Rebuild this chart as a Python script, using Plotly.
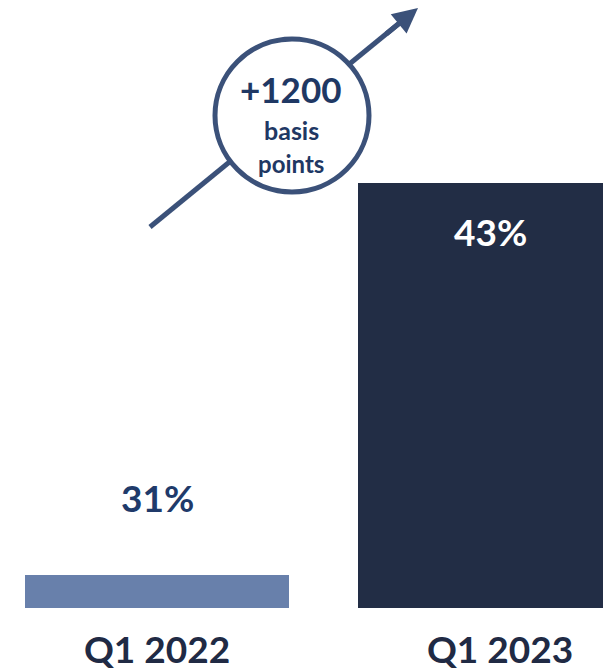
import plotly.graph_objects as go

# ---- data ----
categories = ["Q1 2022", "Q1 2023"]
values = [31, 43]
value_labels = ["31%", "43%"]
bar_colors = ["#6880AB", "#222D45"]
change_label = ["+1200", "basis", "points"]

# ---- layout geometry ----
W, H = 603, 670
PLOT_BOTTOM = 608
MB = H - PLOT_BOTTOM
PLOT_H = PLOT_BOTTOM
Y_MIN = 30
PX_PER_UNIT = 32.69
Y_MAX = Y_MIN + PLOT_H / PX_PER_UNIT
CAT_PX = 333
CAT0_PX = 157
X_RANGE = [-CAT0_PX / CAT_PX, (W - CAT0_PX) / CAT_PX]
TICK_OFFSET_PX = [0, 10]


def dx(px):
    return (px - CAT0_PX) / CAT_PX


def dy(py):
    return Y_MIN + (PLOT_H - py) / PX_PER_UNIT


FONT = "Lato"
NAVY_TEXT = "#1F3864"
LINE_COL = "#3B5179"

fig = go.Figure()
fig.add_trace(go.Bar(
    x=list(range(len(categories))), y=values,
    marker=dict(color=bar_colors, line=dict(width=0)),
    width=0.793, hoverinfo="skip",
))

# value labels
label_shift = [78, -48]
label_color = ["#203A6A", "#FFFFFF"]
for i, (v, t) in enumerate(zip(values, value_labels)):
    fig.add_annotation(x=i, y=v, text=t, showarrow=False, yshift=label_shift[i],
                       xanchor="center", yanchor="middle",
                       font=dict(family=FONT, size=37, color=label_color[i], weight="bold"))

# arrow line (behind circle)
fig.add_shape(type="line", x0=dx(150), y0=dy(227), x1=dx(402), y1=dy(21),
              line=dict(color=LINE_COL, width=5), layer="above")
# circle
fig.add_shape(type="circle", x0=dx(215), x1=dx(369), y0=dy(39), y1=dy(192),
              line=dict(color=LINE_COL, width=5), fillcolor="white", layer="above")
# arrowhead
fig.add_annotation(x=dx(418), y=dy(8), ax=dx(385), ay=dy(35), axref="x", ayref="y",
                   xref="x", yref="y", text="", showarrow=True, arrowhead=2,
                   arrowsize=1.0, arrowwidth=5, arrowcolor=LINE_COL)

# circle text
fig.add_annotation(x=dx(291), y=dy(89), text=change_label[0], showarrow=False,
                   font=dict(family=FONT, size=35, color=NAVY_TEXT, weight="bold"))
fig.add_annotation(x=dx(291), y=dy(130), text=change_label[1], showarrow=False,
                   font=dict(family=FONT, size=25, color=NAVY_TEXT, weight="bold"))
fig.add_annotation(x=dx(291), y=dy(163), text=change_label[2], showarrow=False,
                   font=dict(family=FONT, size=24, color=NAVY_TEXT, weight="bold"))

fig.update_layout(
    width=W, height=H, autosize=False,
    margin=dict(l=0, r=0, t=0, b=MB, pad=0),
    paper_bgcolor="white", plot_bgcolor="white",
    showlegend=False, bargap=0,
    xaxis=dict(range=X_RANGE,
               tickvals=[i + o / CAT_PX for i, o in enumerate(TICK_OFFSET_PX)],
               ticktext=categories,
               showgrid=False, zeroline=False, showline=False, ticks="",
               ticklabelstandoff=17,
               tickfont=dict(family=FONT, size=37, color="#202A44", weight="bold"),
               fixedrange=True),
    yaxis=dict(range=[Y_MIN, Y_MAX], showgrid=False, zeroline=False, showline=False,
               showticklabels=False, ticks="", fixedrange=True),
)

fig.write_html("out.html", config={"displayModeBar": False},
               post_script="document.body.style.margin='0';document.body.style.overflow='hidden';")
